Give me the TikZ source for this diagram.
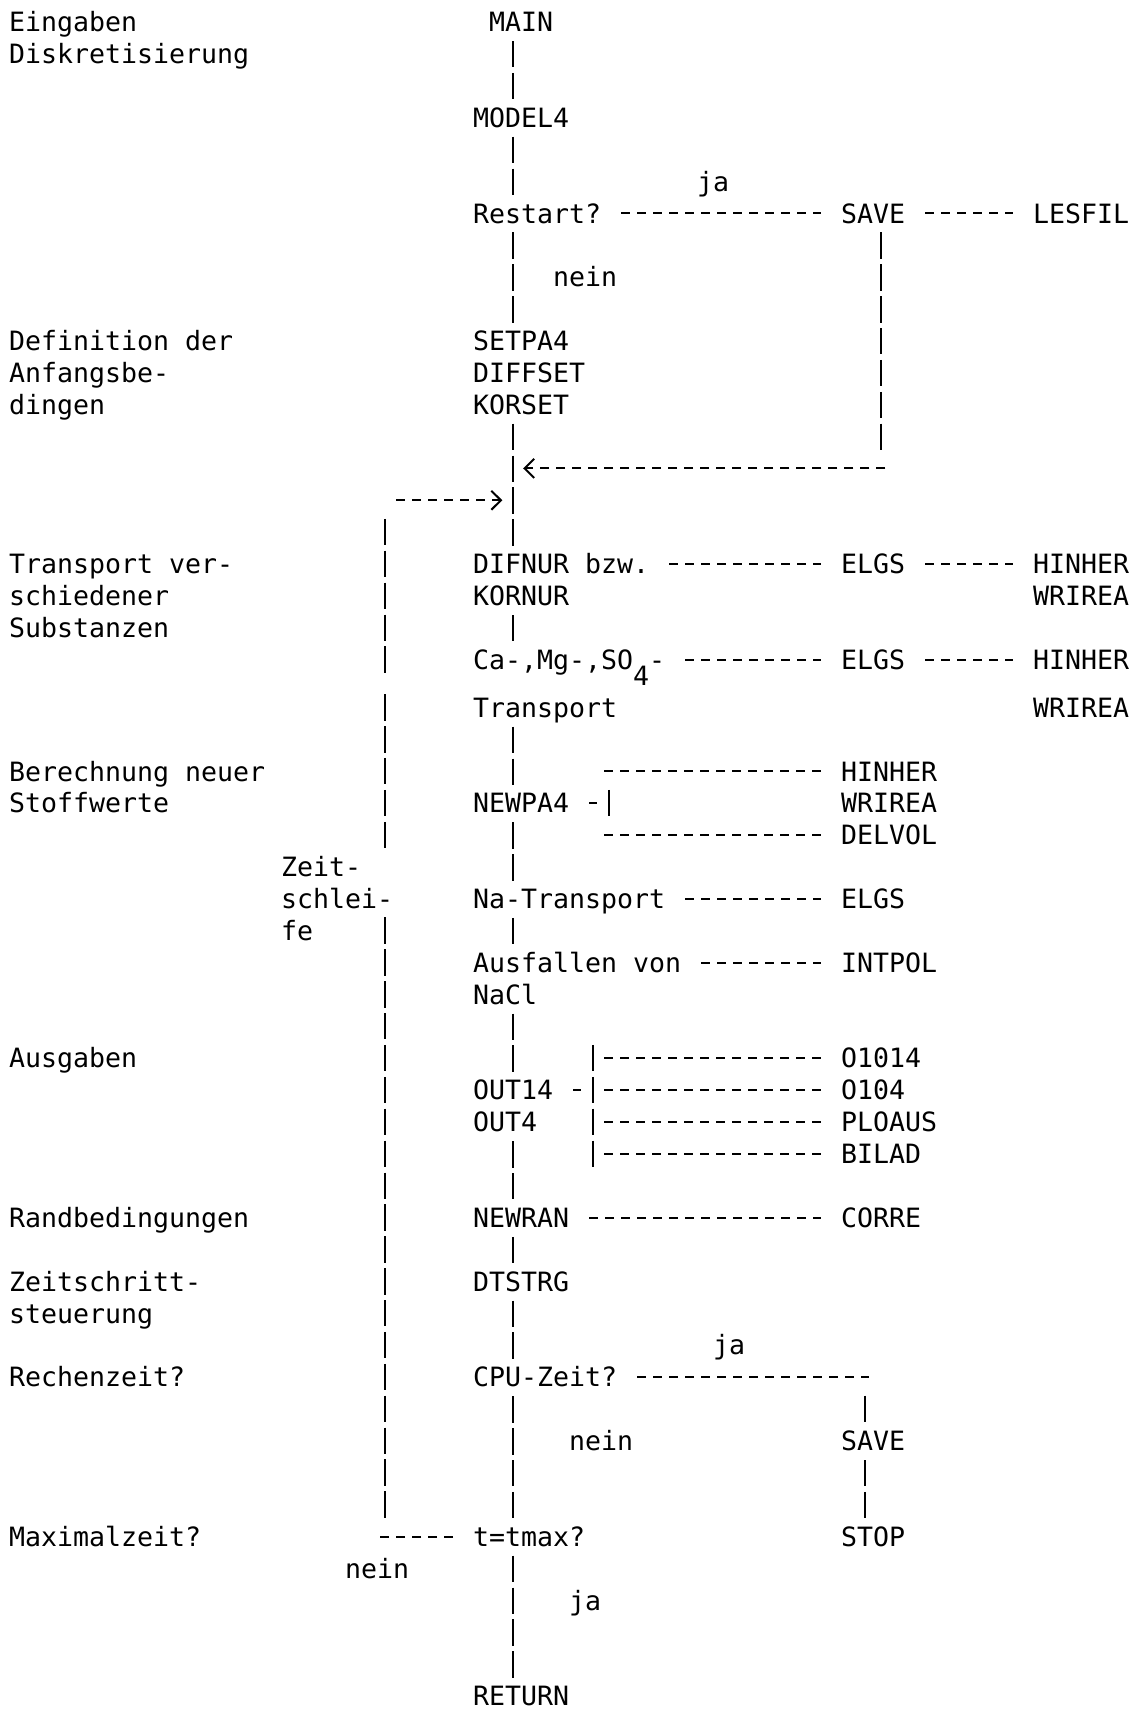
\documentclass[tikz,border=0pt]{standalone}
\usepackage{fontspec}
\setmainfont{DejaVu Sans Mono}
\usetikzlibrary{arrows.meta}

\tikzset{
  txt/.style={anchor=west, inner sep=0pt, text height=9.69pt, text depth=0pt,
    font=\fontsize{13.29pt}{15.943pt}\selectfont},
  pipe/.style={line width=1pt, dash pattern=on 13.2pt off 2.743pt, dash phase=13.45pt,
    shorten <=2pt, shorten >=2pt},
  dashline/.style={line width=1pt, dash pattern=on 4.5pt off 3.5pt,
    shorten <=9.75pt, shorten >=9.75pt},
  barb/.style={shorten >=5.2pt, -{Straight Barb[length=4.8pt,width=9.5pt]}},
}

\begin{document}
\begin{tikzpicture}[x=8pt, y=-15.943pt]
    % Rahmen der Seite
    \useasboundingbox (-0.546,-0.69) rectangle (70.27,52.97);
    \fill[white] (-0.546,-0.69) rectangle (70.27,52.97);

    % Beschreibung links
    \foreach \r/\t [count=\i] in {0/Eingaben, 1/Diskretisierung, 10/Definition der,
        11/Anfangsbe-, 12/dingen, 17/Transport ver-, 18/schiedener, 19/Substanzen,
        23.5/Berechnung neuer, 24.5/Stoffwerte, 32.5/Ausgaben, 37.5/Randbedingungen,
        39.5/Zeitschritt-, 40.5/steuerung, 42.5/Rechenzeit?, 47.5/Maximalzeit?}
        \node[txt] (lab\i) at (0,\r) {\t};

    % Zeitschleife
    \node[txt] (zsA) at (17,26.5) {Zeit-};
    \node[txt] (zsB) at (17,27.5) {schlei-};
    \node[txt] (zsC) at (17,28.5) {fe};

    % Hauptprogramm
    \coordinate (spine) at (31.5,0);
    \node[txt] (main) at (30,0) {MAIN};
    \node[txt] (model) at (29,3) {MODEL4};
    \node[txt] (restart) at (29,6) {Restart?};
    \node[txt] (setpa) at (29,10) {SETPA4};
    \node[txt] (diffset) at (29,11) {DIFFSET};
    \node[txt] (korset) at (29,12) {KORSET};
    \node[txt] (difnur) at (29,17) {DIFNUR bzw.};
    \node[txt] (kornur) at (29,18) {KORNUR};
    \node[txt] (camg) at (29,20) {Ca-,Mg-,SO\raisebox{-7.97pt}{4}-};
    \node[txt] (transp) at (29,21.5) {Transport};
    \node[txt] (newpa) at (29,24.5) {NEWPA4};
    \node[txt] (natr) at (29,27.5) {Na-Transport};
    \node[txt] (ausf) at (29,29.5) {Ausfallen von};
    \node[txt] (nacl) at (29,30.5) {NaCl};
    \node[txt] (outa) at (29,33.5) {OUT14};
    \node[txt] (outb) at (29,34.5) {OUT4};
    \node[txt] (newran) at (29,37.5) {NEWRAN};
    \node[txt] (dtstrg) at (29,39.5) {DTSTRG};
    \node[txt] (cpu) at (29,42.5) {CPU-Zeit?};
    \node[txt] (tmax) at (29,47.5) {t=tmax?};
    \node[txt] (ret) at (29,52.5) {RETURN};

    % Unterprogramme rechts
    \node[txt] (saveA) at (52,6) {SAVE};
    \node[txt] (lesfil) at (64,6) {LESFIL};
    \node[txt] (elgsA) at (52,17) {ELGS};
    \node[txt] (hinherA) at (64,17) {HINHER};
    \node[txt] (wrireaA) at (64,18) {WRIREA};
    \node[txt] (elgsB) at (52,20) {ELGS};
    \node[txt] (hinherB) at (64,20) {HINHER};
    \node[txt] (wrireaB) at (64,21.5) {WRIREA};
    \node[txt] (hinherC) at (52,23.5) {HINHER};
    \node[txt] (wrireaC) at (52,24.5) {WRIREA};
    \node[txt] (delvol) at (52,25.5) {DELVOL};
    \node[txt] (elgsC) at (52,27.5) {ELGS};
    \node[txt] (intpol) at (52,29.5) {INTPOL};
    \node[txt] (oa) at (52,32.5) {O1014};
    \node[txt] (ob) at (52,33.5) {O104};
    \node[txt] (ploaus) at (52,34.5) {PLOAUS};
    \node[txt] (bilad) at (52,35.5) {BILAD};
    \node[txt] (corre) at (52,37.5) {CORRE};
    \node[txt] (saveB) at (52,44.5) {SAVE};
    \node[txt] (stop) at (52,47.5) {STOP};

    % ja / nein
    \node[txt] (jaA) at (43,5) {ja};
    \node[txt] (neinA) at (34,8) {nein};
    \node[txt] (jaB) at (44,41.5) {ja};
    \node[txt] (neinB) at (35,44.5) {nein};
    \node[txt] (neinC) at (21,48.5) {nein};
    \node[txt] (jaC) at (35,49.5) {ja};

    % senkrechte Linie des Hauptprogramms
    \foreach \a/\b in {main/model, model/restart, restart/setpa, korset/difnur,
        kornur/camg, transp/newpa, newpa/natr, natr/ausf, nacl/outa, outb/newran,
        newran/dtstrg, dtstrg/cpu, cpu/tmax, tmax/ret}
        \draw[pipe] (\a.south -| spine) -- (\b.north -| spine);

    % waagrechte Aufrufe
    \foreach \a/\b in {restart/saveA, saveA/lesfil, difnur/elgsA, elgsA/hinherA,
        camg/elgsB, elgsB/hinherB, natr/elgsC, ausf/intpol, newran/corre}
        \draw[dashline] (\a) -- (\b);

    % Restart: SAVE zurueck zum Hauptstrang
    \coordinate (loopR) at (54.5,13.7);
    \coordinate (loopC) at (56,14);
    \coordinate (join) at (31.5,14);
    \draw[pipe] (saveA.south -| loopR) -- (loopR);
    \draw[dashline, barb] (loopC) -- (join);

    % NEWPA4 Verzweigung
    \coordinate (npa) at (37.5,24.5);
    \coordinate (npb) at (36,24.5);
    \draw[dashline, shorten >=5.75pt] (newpa) -- (npa);
    \draw[pipe] (npa) +(0,-0.7) -- +(0,0.7);
    \draw[dashline] (hinherC -| npb) -- (hinherC);
    \draw[dashline] (delvol -| npb) -- (delvol);

    % OUT14 Verzweigung
    \coordinate (opa) at (36.5,33.5);
    \coordinate (opb) at (36,33.5);
    \draw[dashline, shorten >=5.75pt] (outa) -- (opa);
    \draw[pipe] (opa) +(0,-1.7) -- +(0,2.7);
    \foreach \t in {oa, ob, ploaus, bilad}
        \draw[dashline] (\t -| opb) -- (\t);

    % CPU-Zeit: SAVE und STOP
    \coordinate (cpuC) at (55,42.5);
    \coordinate (cpuD) at (53.5,42.8);
    \draw[dashline] (cpu) -- (cpuC);
    \draw[pipe] (cpuD) -- (saveB.north -| cpuD);
    \draw[pipe] (saveB.south -| cpuD) -- (stop.north -| cpuD);

    % Zeitschleife links
    \coordinate (lpA) at (23.5,15.3);
    \coordinate (lpB) at (23.5,20.7);
    \coordinate (lpC) at (23.5,20.8);
    \coordinate (lpD) at (23.5,26.2);
    \coordinate (lpE) at (23.5,27.8);
    \coordinate (lpF) at (23.5,47.2);
    \coordinate (lpG) at (22,47.5);
    \coordinate (lpH) at (23,15);
    \coordinate (entry) at (31.5,15);
    \draw[dashline] (tmax) -- (lpG);
    \draw[pipe] (lpE) -- (lpF);
    \draw[pipe] (lpC) -- (lpD);
    \draw[pipe] (lpA) -- (lpB);
    \draw[dashline, barb] (lpH) -- (entry);
\end{tikzpicture}
\end{document}
